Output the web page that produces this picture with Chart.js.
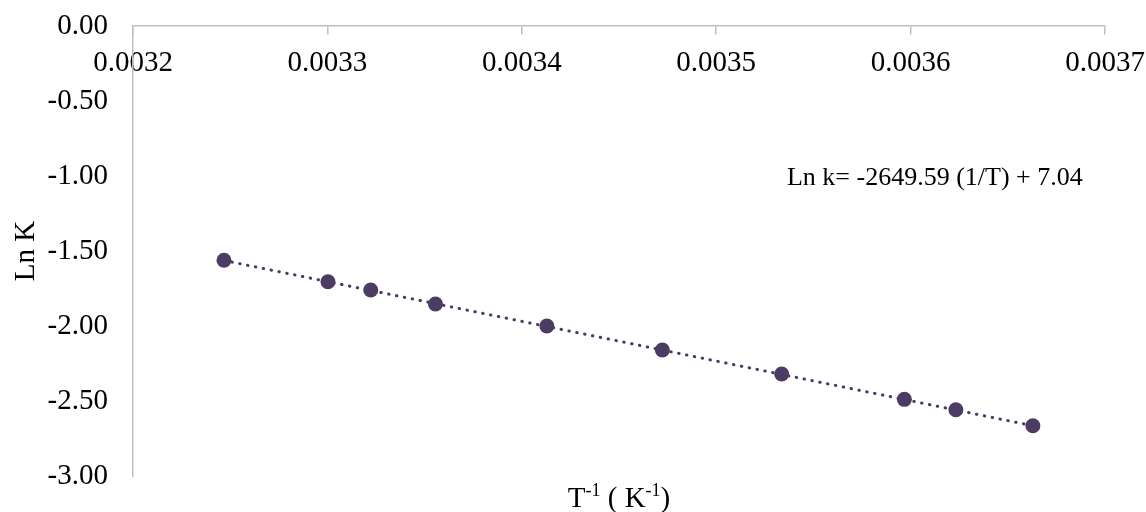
<!DOCTYPE html>
<html><head><meta charset="utf-8">
<script src="https://cdn.jsdelivr.net/npm/chart.js@4"></script>
<style>html,body{margin:0;padding:0;background:#fff;} #wrap{width:1146px;height:512px;position:relative;}</style>
</head><body><div id="wrap"><canvas id="c"></canvas></div>
<script>
// Data
const invT = [0.0032468, 0.0033003, 0.0033223, 0.0033556, 0.0034129, 0.0034723, 0.0035337, 0.0035968, 0.0036233, 0.0036629];
const lnK  = [-1.562, -1.705, -1.760, -1.853, -2.000, -2.160, -2.320, -2.489, -2.558, -2.665];
const trendX = [0.0032468, 0.0036629];
const trendY = [-1.563, -2.665];
const xTickValues = [0.0032, 0.0033, 0.0034, 0.0035, 0.0036, 0.0037];
const xTickLabels = ['0.0032', '0.0033', '0.0034', '0.0035', '0.0036', '0.0037'];
const yTickValues = [0, -0.5, -1, -1.5, -2, -2.5, -3];
const yTickLabels = ['0.00', '-0.50', '-1.00', '-1.50', '-2.00', '-2.50', '-3.00'];
const equationText = 'Ln k= -2649.59 (1/T) + 7.04';
const equationPos = {x: 0.0035364, y: -1.013};
const yTitle = 'Ln K';

const PURPLE = '#4C3B62';
const AXIS = '#BFBFBF';
const SERIF = '"Liberation Serif", "Times New Roman", serif';

function zeroPad(s) { s.paddingTop = 0; s.paddingBottom = 0; s.paddingLeft = 0; s.paddingRight = 0; }

const annot = {
  id: 'annot',
  afterDraw(chart) {
    const ctx = chart.ctx, xs = chart.scales.x, ys = chart.scales.y, ca = chart.chartArea;
    ctx.save();
    // equation text
    ctx.fillStyle = '#000';
    ctx.textBaseline = 'middle';
    ctx.textAlign = 'left';
    ctx.font = '26px ' + SERIF;
    ctx.fillText(equationText, xs.getPixelForValue(equationPos.x), ys.getPixelForValue(equationPos.y));
    // x-axis title with superscripts
    const big = '29px ' + SERIF, small = '18px ' + SERIF;
    const parts = [['T', big, 0], ['-1', small, -11], [' ( K', big, 0], ['-1', small, -11], [')', big, 0]];
    let w = 0;
    parts.forEach(p => { ctx.font = p[1]; w += ctx.measureText(p[0]).width; });
    let x = (ca.left + ca.right) / 2 - w / 2;
    const base = ca.bottom + 31;
    ctx.textBaseline = 'alphabetic';
    parts.forEach(p => { ctx.font = p[1]; ctx.fillText(p[0], x, base + p[2]); x += ctx.measureText(p[0]).width; });
    ctx.restore();
  }
};

new Chart(document.getElementById('c'), {
  type: 'scatter',
  data: {
    datasets: [
      {
        data: invT.map((v, i) => ({x: v, y: lnK[i]})),
        pointRadius: 7.5, pointHoverRadius: 7.5,
        pointBackgroundColor: PURPLE, pointBorderColor: PURPLE, pointBorderWidth: 0,
        showLine: false
      },
      {
        data: trendX.map((v, i) => ({x: v, y: trendY[i]})),
        showLine: true, pointRadius: 0,
        borderColor: PURPLE, borderWidth: 3,
        borderDash: [0.5, 7.5], borderCapStyle: 'round'
      }
    ]
  },
  options: {
    responsive: true, maintainAspectRatio: false, animation: false,
    layout: {padding: {left: 0, right: 41, top: 26, bottom: 36}},
    plugins: {legend: {display: false}, tooltip: {enabled: false}},
    scales: {
      x: {
        type: 'linear', position: {y: 0},
        min: 0.0032, max: 0.0037,
        afterBuildTicks: s => { s.ticks = xTickValues.map(v => ({value: v})); },
        afterFit: s => { s.height = 0; zeroPad(s); },
        ticks: {
          callback: (v, i) => xTickLabels[i],
          font: {family: SERIF, size: 29}, color: '#000', padding: 12, maxRotation: 0, autoSkip: false
        },
        grid: {drawOnChartArea: false, drawTicks: true, tickLength: 8, color: AXIS, lineWidth: 1.5},
        border: {display: true, color: AXIS, width: 1.5}
      },
      y: {
        type: 'linear', position: 'left',
        min: -3, max: 0,
        afterBuildTicks: s => { s.ticks = yTickValues.map(v => ({value: v})); },
        afterFit: s => { s.width = 133; zeroPad(s); },
        ticks: {
          callback: (v, i) => yTickLabels[i],
          font: {family: SERIF, size: 29}, color: '#000', padding: 25, autoSkip: false
        },
        grid: {display: false, drawTicks: false},
        border: {display: true, color: AXIS, width: 1.5},
        title: {display: true, text: yTitle, font: {family: SERIF, size: 29}, color: '#000', padding: {top: 9, bottom: 0}}
      }
    }
  },
  plugins: [annot]
});
</script>
</body></html>
